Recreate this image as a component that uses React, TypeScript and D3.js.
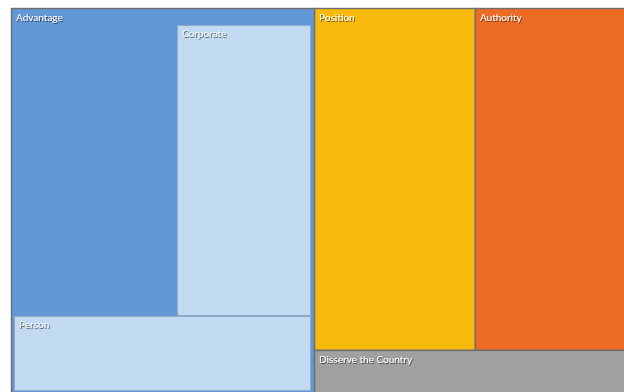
import React from "react";
import * as d3 from "d3";

const topNames = ["Advantage", "Position", "Authority", "Disserve the Country"];
const topValues = [117, 55, 52, 13.8];
const topColors = ["#6398D7", "#F6B90C", "#EE6B26", "#A0A0A0"];

const advChildNames = ["Corporate", "Person"];
const advChildValues = [42, 24];
const childColor = "#C2DAF1";

const W = 624;
const H = 392;
const X0 = 11, Y0 = 8, X1 = 627, Y1 = 394;
const PAD = { top: 17, left: 3, right: 3, bottom: 3 };

type Leaf = { name: string; value: number; hidden?: boolean };
type R = { name: string; x0: number; y0: number; x1: number; y1: number };

export default function App() {
  const rootData = { name: "root", children: topNames.map((n, i) => ({ name: n, value: topValues[i] })) };
  const root = d3.hierarchy<any>(rootData).sum((d: any) => d.value || 0);
  d3.treemap<any>().tile(d3.treemapSquarify).size([X1 - X0, Y1 - Y0])(root);
  const tops: R[] = (root.children as any[]).map((t) => ({
    name: t.data.name,
    x0: t.x0 + X0, x1: t.x1 + X0, y0: t.y0 + Y0, y1: t.y1 + Y0,
  }));

  const adv = tops.find((t) => t.name === "Advantage")!;
  const own = topValues[0] - d3.sum(advChildValues);
  const childLeaves: Leaf[] = [
    { name: "__own", value: own, hidden: true },
    ...advChildNames.map((n, i) => ({ name: n, value: advChildValues[i] })),
  ];
  const sub = d3.hierarchy<any>({ name: "adv", children: childLeaves })
    .sum((d: any) => d.value || 0)
    .sort((a, b) => (b.value || 0) - (a.value || 0));
  const sx = adv.x0 + PAD.left, sy = adv.y0 + PAD.top;
  d3.treemap<any>().tile(d3.treemapSquarify).size([
    adv.x1 - PAD.right - sx,
    adv.y1 - PAD.bottom - sy,
  ])(sub);
  const subs: R[] = (sub.children as any[])
    .filter((c) => !c.data.hidden)
    .map((c) => ({ name: c.data.name, x0: c.x0 + sx, x1: c.x1 + sx, y0: c.y0 + sy, y1: c.y1 + sy }));

  const labelStyle: React.CSSProperties = {
    fontFamily: "Lato, 'Open Sans', sans-serif",
    fontSize: 10,
    fill: "#ffffff",
  };

  return (
    <svg
      width={W}
      height={H}
      style={{ display: "block", overflow: "hidden", position: "absolute", left: 0, top: 0 }}
    >
      <defs>
        <filter id="ts" x="-10%" y="-30%" width="130%" height="180%">
          <feDropShadow dx="0.8" dy="1" stdDeviation="0.7" floodColor="#000" floodOpacity="0.6" />
        </filter>
      </defs>
      {tops.map((t) => (
        <rect
          key={t.name}
          x={t.x0 + 0.5}
          y={t.y0 + 0.5}
          width={t.x1 - t.x0}
          height={t.y1 - t.y0}
          fill={topColors[topNames.indexOf(t.name)]}
          stroke="#6e6e6e"
          strokeWidth={1.4}
        />
      ))}
      {subs.map((c) => (
        <rect
          key={c.name}
          x={c.x0 + 0.5}
          y={c.y0 + 0.5}
          width={c.x1 - c.x0 - 1}
          height={c.y1 - c.y0 - 1}
          fill={childColor}
          stroke="#8fa9c6"
          strokeWidth={1}
        />
      ))}
      {tops.map((t) => (
        <text key={"l" + t.name} x={t.x0 + 5} y={t.y0 + 13} style={labelStyle} filter="url(#ts)">
          {t.name}
        </text>
      ))}
      {subs.map((c) => (
        <text key={"l" + c.name} x={c.x0 + 5} y={c.y0 + 12} style={{ ...labelStyle, fill: "#f4f6f8" }} filter="url(#ts)">
          {c.name}
        </text>
      ))}
    </svg>
  );
}
